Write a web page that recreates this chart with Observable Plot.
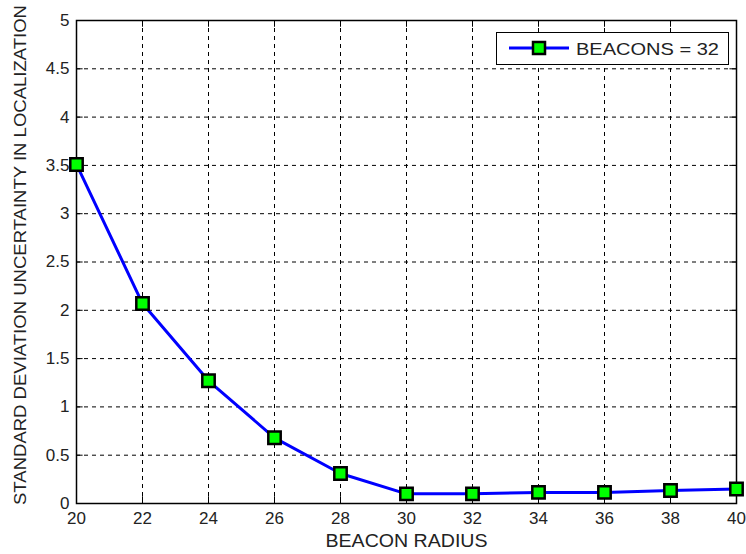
<!DOCTYPE html>
<html>
<head>
<meta charset="utf-8">
<script src="https://cdn.jsdelivr.net/npm/d3@7"></script>
<script src="https://cdn.jsdelivr.net/npm/@observablehq/plot@0.6"></script>
<style>
  html, body { margin: 0; padding: 0; background: #fff; }
  #wrap { position: relative; width: 746px; height: 554px; font-family: "Liberation Sans", Arial, sans-serif; }
  #legend { position: absolute; left: 496px; top: 32px; width: 233px; height: 33px; }
</style>
</head>
<body>
<div id="wrap">
  <div id="chart"></div>
  <svg id="legend" width="233" height="33">
    <rect x="0.5" y="0.5" width="232" height="32" fill="#fff" stroke="#000" stroke-width="1"/>
    <line x1="13" y1="16" x2="73" y2="16" stroke="#0000ff" stroke-width="3"/>
    <rect x="37" y="10" width="12" height="12" fill="#00ff00" stroke="#000" stroke-width="2.5"/>
    <text id="legendText" x="80" y="22.5" font-size="17" fill="#222" textLength="143" lengthAdjust="spacingAndGlyphs" font-family="'Liberation Sans', Arial, sans-serif"></text>
  </svg>
</div>
<script>
const radius = [20, 22, 24, 26, 28, 30, 32, 34, 36, 38, 40];
const stdDev = [3.51, 2.07, 1.27, 0.68, 0.31, 0.10, 0.10, 0.115, 0.115, 0.135, 0.15];
const xTicks = [20, 22, 24, 26, 28, 30, 32, 34, 36, 38, 40];
const yTicks = [0, 0.5, 1, 1.5, 2, 2.5, 3, 3.5, 4, 4.5, 5];
const xLabel = "BEACON RADIUS";
const yLabel = "STANDARD DEVIATION UNCERTAINTY IN LOCALIZATION";
const seriesName = "BEACONS = 32";

document.getElementById("legendText").textContent = seriesName;

const data = radius.map((r, i) => ({r, v: stdDev[i]}));
const xInner = xTicks.slice(1, -1);
const yInner = yTicks.slice(1, -1);

const chart = Plot.plot({
  width: 746,
  height: 554,
  marginLeft: 76,
  marginRight: 10,
  marginTop: 20,
  marginBottom: 51,
  style: {fontFamily: "'Liberation Sans', Arial, sans-serif", fontSize: "17px", color: "#222", background: "#fff", overflow: "visible"},
  x: {domain: [20, 40]},
  y: {domain: [0, 5]},
  marks: [
    Plot.ruleX(xInner, {x: d => d, stroke: "#000", strokeWidth: 1, strokeDasharray: "4,4"}),
    Plot.ruleY(yInner, {y: d => d, stroke: "#000", strokeWidth: 1, strokeDasharray: "4,4"}),
    Plot.ruleX(xInner, {x: d => d, y1: 0, y2: 0.07, stroke: "#000", strokeWidth: 1}),
    Plot.ruleX(xInner, {x: d => d, y1: 5, y2: 4.93, stroke: "#000", strokeWidth: 1}),
    Plot.ruleY(yInner, {y: d => d, x1: 20, x2: 20.2, stroke: "#000", strokeWidth: 1}),
    Plot.ruleY(yInner, {y: d => d, x1: 40, x2: 39.8, stroke: "#000", strokeWidth: 1}),
    Plot.frame({stroke: "#000", strokeWidth: 1.5}),
    Plot.axisX({ticks: xTicks, tickSize: 0, tickPadding: 8, fill: "#222", tickFormat: d => String(d), label: null}),
    Plot.axisY({ticks: yTicks, tickSize: 0, tickPadding: 7, fill: "#222", tickFormat: d => String(d), label: null}),
    Plot.text([xLabel], {frameAnchor: "bottom", textAnchor: "middle", dy: 43, text: d => d, fontSize: 18, fill: "#222"}),
    Plot.text([yLabel], {frameAnchor: "left", textAnchor: "middle", dx: -56, dy: -7, rotate: -90, text: d => d, fontSize: 16.5, fill: "#222"}),
    Plot.line(data, {x: "r", y: "v", stroke: "#0000ff", strokeWidth: 3}),
    Plot.dot(data, {x: "r", y: "v", symbol: "square", r: 7, fill: "#00ff00", stroke: "#000", strokeWidth: 2.5})
  ]
});
const texts = d3.select(chart).selectAll("text");
texts.filter(function() { return this.textContent === yLabel; }).attr("textLength", 500).attr("lengthAdjust", "spacingAndGlyphs");
texts.filter(function() { return this.textContent === xLabel; }).attr("textLength", 162).attr("lengthAdjust", "spacingAndGlyphs");
document.getElementById("chart").appendChild(chart);
</script>
</body>
</html>
